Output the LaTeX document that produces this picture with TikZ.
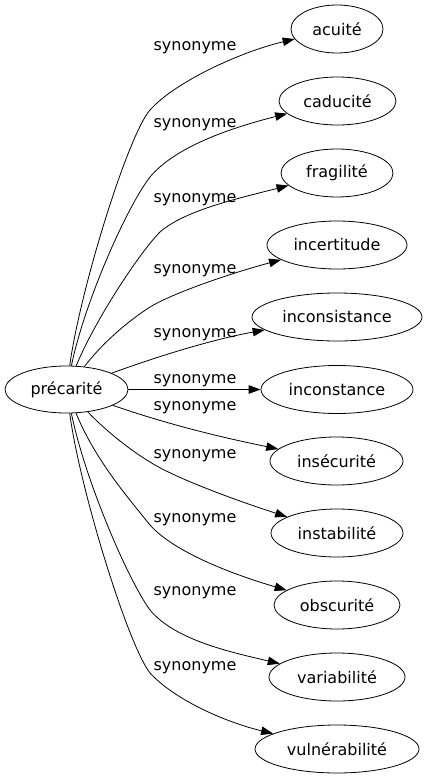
\documentclass[tikz,border=0pt]{standalone}
\usepackage{fontspec}
\setmainfont{DejaVu Sans}
\usetikzlibrary{shapes.geometric,arrows.meta}
\begin{document}
\begin{tikzpicture}[x=1pt,y=-1pt,
  term/.style={draw,ellipse,line width=0.8pt,inner sep=0pt,minimum height=48pt,font=\fontsize{16}{19}\selectfont},
  rel/.style={draw,line width=0.8pt,-{Triangle[length=12pt,width=8.5pt]}},
  lab/.style={inner sep=0pt,font=\fontsize{16}{19}\selectfont}]
\useasboundingbox (0,0) rectangle (427,779);

\node[term,minimum width=123pt,minimum height=47pt] (p) at (66.5,389.5) {précarité};

\node[term,minimum width=92pt]  (a1)  at (337,29)  {acuité};
\node[term,minimum width=117pt] (a2)  at (337.5,101) {caducité};
\node[term,minimum width=112pt] (a3)  at (337,173) {fragilité};
\node[term,minimum width=140pt] (a4)  at (337,245) {incertitude};
\node[term,minimum width=170pt] (a5)  at (337,317) {inconsistance};
\node[term,minimum width=152pt] (a6)  at (337,389.5) {inconstance};
\node[term,minimum width=133pt] (a7)  at (336.5,461) {insécurité};
\node[term,minimum width=132pt] (a8)  at (337,533) {instabilité};
\node[term,minimum width=126pt] (a9)  at (337,605) {obscurité};
\node[term,minimum width=136pt] (a10) at (337,677) {variabilité};
\node[term,minimum width=164pt] (a11) at (337,749) {vulnérabilité};

\node[lab] (l1)  at (195,47.5)  {synonyme};
\node[lab] (l2)  at (195,124.5) {synonyme};
\node[lab] (l3)  at (195,199.5) {synonyme};
\node[lab] (l4)  at (195,270.5) {synonyme};
\node[lab] (l5)  at (195,334.5) {synonyme};
\node[lab] (l6)  at (195,380.5) {synonyme};
\node[lab] (l7)  at (195,407.5) {synonyme};
\node[lab] (l8)  at (195,455.5) {synonyme};
\node[lab] (l9)  at (195,519.5) {synonyme};
\node[lab] (l10) at (195,592.5) {synonyme};
\node[lab] (l11) at (195,667.5) {synonyme};

\path[rel] (p) .. controls (80,290) and (128,135) .. (150,110) .. controls (175,82) and (240,52) .. (a1);
\path[rel] (p) .. controls (85,300) and (128,205) .. (150,177) .. controls (175,147) and (230,128) .. (a2);
\path[rel] (p) .. controls (95,320) and (140,252) .. (160,232) .. controls (185,210) and (240,198) .. (a3);
\path[rel] (p) .. controls (105,340) and (130,320) .. (150,307) .. controls (175,292) and (235,272) .. (a4);
\path[rel] (p) .. controls (170,352) and (220,338) .. (a5);
\path[rel] (p) -- (a6);
\path[rel] (p) .. controls (170,425) and (220,437) .. (a7);
\path[rel] (p) .. controls (105,430) and (130,450) .. (150,462) .. controls (175,478) and (235,500) .. (a8);
\path[rel] (p) .. controls (95,460) and (130,500) .. (150,525) .. controls (175,553) and (235,575) .. (a9);
\path[rel] (p) .. controls (85,480) and (128,580) .. (150,610) .. controls (175,640) and (230,652) .. (a10);
\path[rel] (p) .. controls (80,490) and (128,645) .. (150,673) .. controls (175,700) and (225,722) .. (a11);
\end{tikzpicture}
\end{document}
